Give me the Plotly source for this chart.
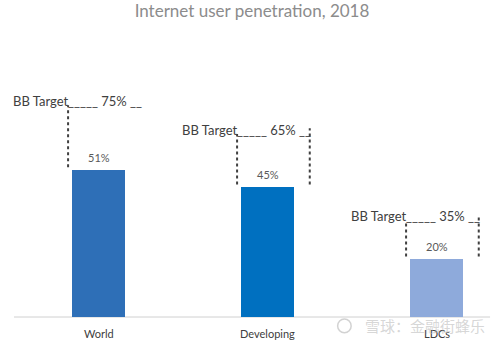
import plotly.graph_objects as go

categories = ["World", "Developing", "LDCs"]
values = [51, 45, 20]
targets = [75, 65, 35]
value_labels = ["51%", "45%", "20%"]
target_labels = ["75%", "65%", "35%"]
right_bracket = [False, True, True]
bar_colors = ["#2E6FB7", "#0070C0", "#8EAADB"]

title = "Internet user penetration, 2018"
watermark = "雪球：金融街蜂乐"

FONT = "Lato"
x_idx = list(range(len(categories)))

fig = go.Figure()
fig.add_trace(go.Bar(
    x=x_idx, y=values, width=0.314,
    marker=dict(color=bar_colors, line=dict(width=0)),
    hoverinfo="skip", showlegend=False,
))

# baseline
fig.add_shape(type="line", x0=-0.5, x1=2.317, y0=0, y1=0,
              line=dict(color="#D0D0D0", width=1), layer="below")

for i, (cat, v, t, vl, tl, rb) in enumerate(zip(categories, values, targets,
                                                  value_labels, target_labels, right_bracket)):
    # category label
    fig.add_annotation(x=i, y=-5.6, text=cat, showarrow=False,
                       font=dict(family=FONT, size=11, color="#404040"),
                       xanchor="center", yanchor="middle")
    # value label
    fig.add_annotation(x=i, y=v, yshift=13, text=vl, showarrow=False,
                       font=dict(family=FONT, size=11, color="#595959"),
                       xanchor="center", yanchor="middle")
    # target text
    fig.add_annotation(x=i - 0.515, y=t, text=f"BB Target_____ {tl} __", showarrow=False,
                       font=dict(family=FONT, size=13, color="#404040"),
                       xanchor="left", yanchor="middle")
    # dotted brackets
    fig.add_shape(type="line", x0=i - 0.18, x1=i - 0.18, y0=v + 1, y1=t - 1.5,
                  line=dict(color="#404040", width=2, dash="dot"))
    if rb:
        fig.add_shape(type="line", x0=i + 0.25, x1=i + 0.25, y0=v + 1, y1=t + 0.5,
                      line=dict(color="#404040", width=2, dash="dot"))

# faint watermark (logo ring + text)
fig.add_shape(type="circle", xref="x", yref="y",
              x0=1.415, x1=1.495, y0=-5.5, y1=-0.7,
              line=dict(color="rgba(180,180,180,0.6)", width=1.5))
fig.add_annotation(x=1.93, y=-3.1, text=watermark, showarrow=False,
                   font=dict(family="Noto Sans CJK SC", size=15, color="rgba(180,180,180,0.55)"),
                   xanchor="center", yanchor="middle")

fig.update_layout(
    width=499, height=341,
    margin=dict(l=0, r=0, t=0, b=0),
    paper_bgcolor="white", plot_bgcolor="white",
    title=dict(text=title, x=0.505, xanchor="center", y=1 - 11 / 341, yanchor="middle",
               font=dict(family=FONT, size=17, color="#8C8C8C")),
    xaxis=dict(range=[-98.5 / 169, (499 - 98.5) / 169], showgrid=False, zeroline=False,
               showticklabels=False, showline=False, fixedrange=True),
    yaxis=dict(range=[-(341 - 317) / 2.88, 317 / 2.88], showgrid=False, zeroline=False,
               showticklabels=False, showline=False, fixedrange=True),
    bargap=0,
)

fig.write_html("out.html")
